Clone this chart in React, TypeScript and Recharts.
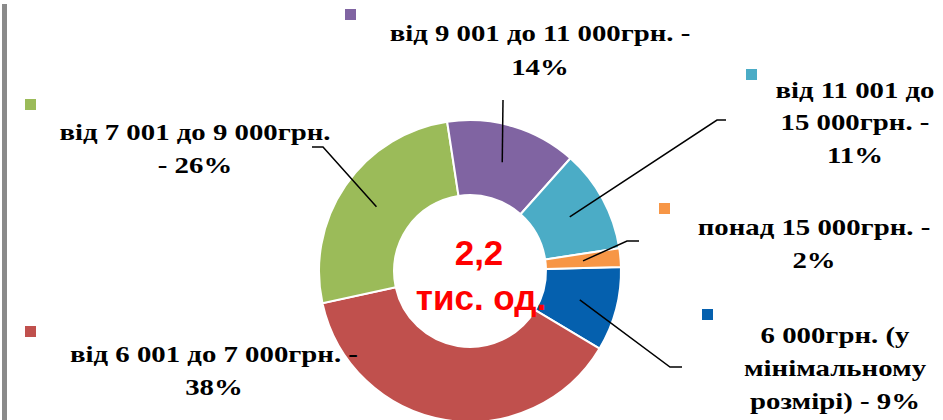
import { PieChart, Pie, Cell, Label } from 'recharts'

// share of vacancies by offered salary, %
const categories = [
  '6 000грн. (у мінімальному розмірі)',
  'від 6 001 до 7 000грн.',
  'від 7 001 до 9 000грн.',
  'від 9 001 до 11 000грн.',
  'від 11 001 до 15 000грн.',
  'понад 15 000грн.',
]
const shares = [9, 38, 26, 14, 11, 2]
const sliceColors = ['#0560AE', '#C0504D', '#9BBB59', '#8064A2', '#4BACC6', '#F79646']

// wrapped label text, {p} is replaced by the share
const labelLines = [
  ['6 000грн. (у', 'мінімальному', 'розмірі) - {p}%'],
  ['від 6 001 до 7 000грн. -', '{p}%'],
  ['від 7 001 до 9 000грн.', '- {p}%'],
  ['від 9 001 до 11 000грн. -', '{p}%'],
  ['від 11 001 до', '15 000грн. -', '{p}%'],
  ['понад 15 000грн. -', '{p}%'],
]
const totalLines = ['2,2', 'тис. од.']

const data = categories.map((name, i) => ({ name, value: shares[i] }))

const CX = 470
const CY = 271
// the source text is drawn a bit wider than the font
const STRETCH = 1.2

// label placement, offsets from the pie centre
type LabelLayout = {
  tx: number
  ty: number
  gap: number
  sq: [number, number]
  elbow?: [number, number]
  end?: [number, number]
}

const LABEL_LAYOUT: LabelLayout[] = [
  { tx: 365, ty: 72, gap: 33, sq: [232, 38], elbow: [200, 96], end: [212, 96] },
  { tx: -256, ty: 91, gap: 33, sq: [-445, 55] },
  { tx: -275, ty: -131, gap: 33, sq: [-445, -172], elbow: [-147, -124], end: [-158, -124] },
  { tx: 70, ty: -230, gap: 34, sq: [-125, -262], elbow: [33, -171], end: [33, -171] },
  { tx: 385, ty: -173, gap: 32.5, sq: [276, -202], elbow: [247, -151], end: [256, -151] },
  { tx: 344, ty: -36, gap: 33, sq: [189, -68], elbow: [157, -30], end: [169, -30] },
]

const RAD = Math.PI / 180
const serif = { fontFamily: '"Liberation Serif", "Times New Roman", serif', fontWeight: 700, fontSize: 24 }

function renderLabel(props: any) {
  const { cx, cy, midAngle, innerRadius, outerRadius, index } = props
  const lay = LABEL_LAYOUT[index]
  const r = (innerRadius + outerRadius) / 2
  const ax = cx + r * Math.cos(-midAngle * RAD)
  const ay = cy + r * Math.sin(-midAngle * RAD)
  const lines = labelLines[index].map((l) => l.replace('{p}', String(shares[index])))

  return (
    <g key={`lbl-${index}`}>
      {lay.elbow && lay.end && (
        <polyline
          points={`${ax},${ay} ${cx + lay.elbow[0]},${cy + lay.elbow[1]} ${cx + lay.end[0]},${cy + lay.end[1]}`}
          fill="none"
          stroke="#000"
          strokeWidth={1.5}
        />
      )}
      <rect x={cx + lay.sq[0]} y={cy + lay.sq[1]} width={11} height={11} fill={sliceColors[index]} />
      <text
        textAnchor="middle"
        fill="#000"
        style={serif}
        transform={`translate(${cx + lay.tx},0) scale(${STRETCH},1)`}
      >
        {lines.map((line, i) => (
          <tspan key={i} x={0} y={cy + lay.ty + i * lay.gap}>
            {line}
          </tspan>
        ))}
      </text>
    </g>
  )
}

function CenterTotal() {
  return (
    <text
      textAnchor="middle"
      fill="#FF0000"
      style={{ fontFamily: '"Liberation Sans", Arial, sans-serif', fontWeight: 700, fontSize: 35 }}
    >
      <tspan x={CX + 9} y={CY - 6}>{totalLines[0]}</tspan>
      <tspan x={CX + 11} y={CY + 39}>{totalLines[1]}</tspan>
    </text>
  )
}

export default function App() {
  return (
    <div style={{ position: 'fixed', left: 0, top: 0, width: 943, height: 420, background: '#fff', overflow: 'hidden' }}>
      <div style={{ position: 'absolute', left: 2, top: 4, width: 5, height: 416, background: '#8a8a8a' }} />
      <PieChart width={943} height={420} margin={{ top: 0, right: 0, bottom: 0, left: 0 }}>
        <Pie
          data={data}
          dataKey="value"
          nameKey="name"
          cx={CX}
          cy={CY}
          innerRadius={76}
          outerRadius={151}
          startAngle={1.5}
          endAngle={-358.5}
          stroke="#fff"
          strokeWidth={2}
          label={renderLabel}
          labelLine={false}
          isAnimationActive={false}
        >
          {data.map((_, i) => (
            <Cell key={`cell-${i}`} fill={sliceColors[i]} />
          ))}
          <Label content={() => <CenterTotal />} position="center" />
        </Pie>
      </PieChart>
    </div>
  )
}
